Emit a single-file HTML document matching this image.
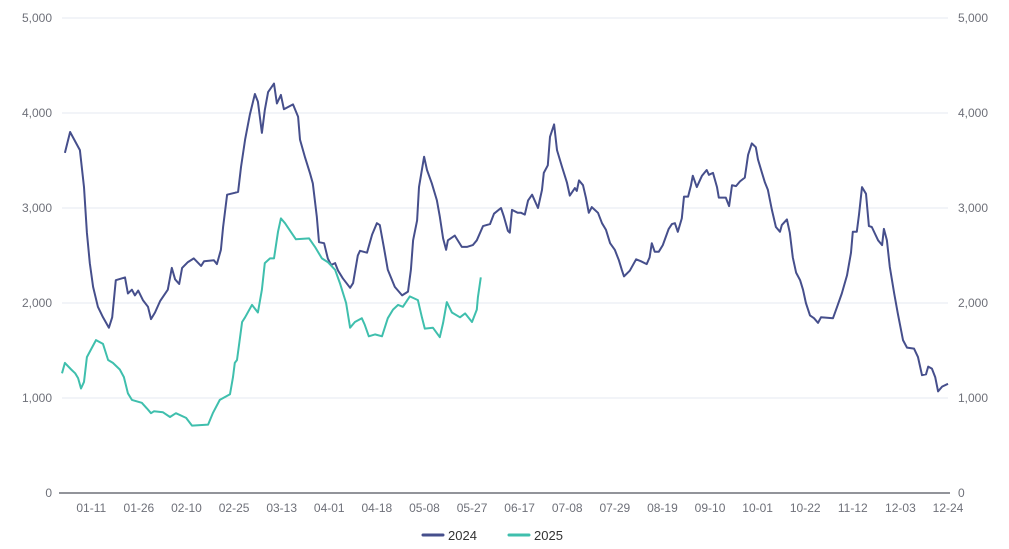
<!DOCTYPE html>
<html><head><meta charset="utf-8"><style>
html,body{margin:0;padding:0;background:#fff;}
svg{display:block;font-family:"Liberation Sans",sans-serif;}
</style></head><body>
<svg id="chart" width="1009" height="549" viewBox="0 0 1009 549" xmlns="http://www.w3.org/2000/svg">
<g id="grid"></g>
<g id="yl"></g>
<g id="yr"></g>
<g id="xa"></g>
<g id="series"></g>
<g>
<g><line x1="423" y1="535" x2="443" y2="535" stroke="#464f8c" stroke-width="3" stroke-linecap="round"/><text x="448" y="540" font-size="13" fill="#333">2024</text></g>
<g><line x1="509" y1="535" x2="529" y2="535" stroke="#3fbfad" stroke-width="3" stroke-linecap="round"/><text x="534" y="540" font-size="13" fill="#333">2025</text></g>
</g>
</svg>
<script>
const xLabels=["01-11","01-26","02-10","02-25","03-13","04-01","04-18","05-08","05-27","06-17","07-08","07-29","08-19","09-10","10-01","10-22","11-12","12-03","12-24"];
const yTicks=[0,1000,2000,3000,4000,5000];
const t2024=[0.8,2.2,4.9,6.0,6.8,7.6,8.5,9.8,11.2,12.8,13.7,14.7,17.2,18.0,19.1,19.9,20.8,22.1,23.5,24.3,25.4,26.8,28.9,30.0,30.9,32.0,32.8,34.4,36.0,38.0,38.8,41.5,42.3,43.4,44.0,45.1,47.2,48.1,48.9,50.0,51.3,52.7,53.5,54.6,55.4,56.3,57.9,58.7,59.8,60.6,63.1,64.5,65.0,66.4,67.7,68.5,69.6,70.2,71.6,72.6,73.5,74.6,75.4,76.7,78.7,79.5,80.8,81.4,83.3,84.7,86.0,86.8,87.9,89.0,90.9,92.9,94.5,95.3,95.9,97.0,97.5,98.9,99.7,101.0,102.4,103.2,104.1,104.9,105.4,107.3,109.2,110.6,112.2,113.3,115.0,116.9,118.0,119.9,120.7,121.8,122.3,122.9,124.5,125.4,126.4,127.3,128.4,130.0,131.1,131.6,132.7,133.3,134.4,135.2,136.6,137.9,138.7,140.1,140.6,141.2,142.3,143.1,143.9,144.7,146.4,147.5,148.6,149.7,151.0,152.1,152.9,153.5,155.1,156.8,158.1,159.7,160.5,161.1,161.9,163.0,164.1,165.7,166.6,167.4,168.2,169.3,169.9,171.0,171.8,172.3,173.4,174.8,176.1,176.7,177.8,178.9,179.4,181.3,182.2,183.0,184.1,185.2,186.5,187.4,188.4,189.5,190.1,191.2,192.0,192.8,193.9,195.0,196.1,196.6,198.0,198.8,199.6,200.5,201.6,202.4,203.2,204.3,205.4,206.5,207.3,210.6,211.7,213.0,214.4,215.5,216.0,217.1,217.7,218.5,219.6,220.4,221.2,222.9,224.0,224.5,225.3,226.1,227.3,228.3,229.7,230.8,232.7,233.8,234.9,236.0,236.6,237.6,238.5,239.3,240.4,242];
const v2024=[3580,3800,3610,3220,2740,2420,2170,1960,1850,1740,1850,2240,2270,2100,2140,2080,2130,2030,1960,1830,1900,2020,2140,2370,2250,2200,2370,2430,2470,2390,2440,2450,2410,2560,2800,3140,3160,3170,3430,3720,3980,4200,4120,3790,4030,4220,4310,4100,4190,4040,4090,3960,3720,3530,3370,3260,2910,2640,2630,2470,2400,2420,2340,2260,2160,2210,2500,2550,2530,2720,2840,2820,2590,2350,2170,2080,2120,2350,2660,2870,3220,3540,3400,3260,3080,2910,2680,2560,2660,2710,2590,2590,2610,2660,2810,2830,2940,3000,2910,2760,2740,2980,2950,2950,2930,3080,3140,3000,3190,3370,3450,3750,3880,3610,3430,3270,3130,3210,3180,3290,3240,3110,2950,3010,2950,2840,2770,2630,2560,2450,2350,2280,2340,2460,2440,2410,2480,2630,2540,2540,2610,2780,2830,2840,2750,2890,3120,3120,3240,3340,3220,3340,3400,3350,3370,3220,3110,3110,3020,3240,3230,3280,3320,3560,3680,3640,3510,3370,3270,3190,2980,2800,2750,2820,2880,2740,2480,2320,2240,2140,2000,1870,1840,1790,1850,1840,1960,2100,2290,2530,2750,2750,2930,3220,3150,2810,2800,2660,2610,2780,2660,2380,2100,1890,1610,1530,1520,1430,1240,1250,1330,1310,1220,1070,1120,1150];
const t2025=[0,0.8,2.5,3.6,4.4,5.2,6.0,6.8,7.9,9.3,11.2,12.6,13.9,15.8,16.9,18.0,19.1,21.8,23.2,24.3,25.1,27.6,29.5,31.1,33.9,35.5,39.9,41.2,43.1,45.9,46.7,47.2,47.8,49.2,50.0,51.9,53.5,54.6,55.4,56.8,57.9,59.0,59.8,60.9,62.5,63.9,67.5,69.1,71.0,72.6,74.6,75.9,77.6,78.7,80.0,81.9,82.7,83.8,85.5,87.4,89.0,90.4,91.8,93.1,95.0,97.2,98.3,99.1,101.3,103.2,104.1,105.1,106.5,108.7,110.1,112.0,113.3,113.6,114.4];
const v2025=[1260,1370,1300,1260,1210,1100,1170,1430,1510,1610,1570,1400,1370,1300,1220,1050,980,950,890,840,860,850,800,840,790,710,720,840,980,1040,1220,1370,1400,1800,1850,1980,1900,2140,2420,2470,2470,2750,2890,2840,2750,2670,2680,2590,2470,2430,2350,2210,2000,1740,1800,1840,1770,1650,1670,1650,1840,1930,1980,1960,2070,2030,1850,1730,1740,1640,1790,2010,1900,1850,1890,1800,1930,2060,2270];
const X0=62,X1=948,Y0=493,Y1=18,TMAX=242,VMAX=5000;
function xs(t){return X0+t*(X1-X0)/TMAX;}
function ys(v){return Y0-v*(Y0-Y1)/VMAX;}
const NS="http://www.w3.org/2000/svg";
function mk(tag,attrs,parent,txt){const e=document.createElementNS(NS,tag);for(const k in attrs)e.setAttribute(k,attrs[k]);if(txt!==undefined)e.textContent=txt;parent.appendChild(e);return e;}
const grid=document.getElementById('grid'),yl=document.getElementById('yl'),yr=document.getElementById('yr'),xa=document.getElementById('xa'),ser=document.getElementById('series');
yTicks.forEach(v=>{
  if(v>0){const g=mk('line',{x1:X0,x2:X1,y1:ys(v),y2:ys(v),stroke:'#e6e9f0','stroke-width':1},grid);
  
  }
  const a=mk('text',{x:52,y:ys(v)+4,'text-anchor':'end','font-size':12,fill:'#6e7079'},yl,v.toLocaleString('en-US'));
  
  
  const b=mk('text',{x:958,y:ys(v)+4,'text-anchor':'start','font-size':12,fill:'#6e7079'},yr,v.toLocaleString('en-US'));
  
  
});
const ax=mk('line',{x1:59,x2:950,y1:Y0,y2:Y0,stroke:'#6e7079','stroke-width':1.5},xa);


xLabels.forEach((l,i)=>{
  const t=mk('text',{x:xs(8+i*13),y:512,'text-anchor':'middle','font-size':12,fill:'#6e7079'},xa,l);
  
  
});
function line(ts,vs,color,name){
  const d=ts.map((t,i)=>(i?'L':'M')+xs(t).toFixed(1)+','+ys(vs[i]).toFixed(1)).join('');
  const p=mk('path',{d:d,fill:'none',stroke:color,'stroke-width':2,'stroke-linejoin':'round'},ser);
  
  
}
line(t2024,v2024,'#464f8c','series-2024-line');
line(t2025,v2025,'#3fbfad','series-2025-line');
</script>
</body></html>
